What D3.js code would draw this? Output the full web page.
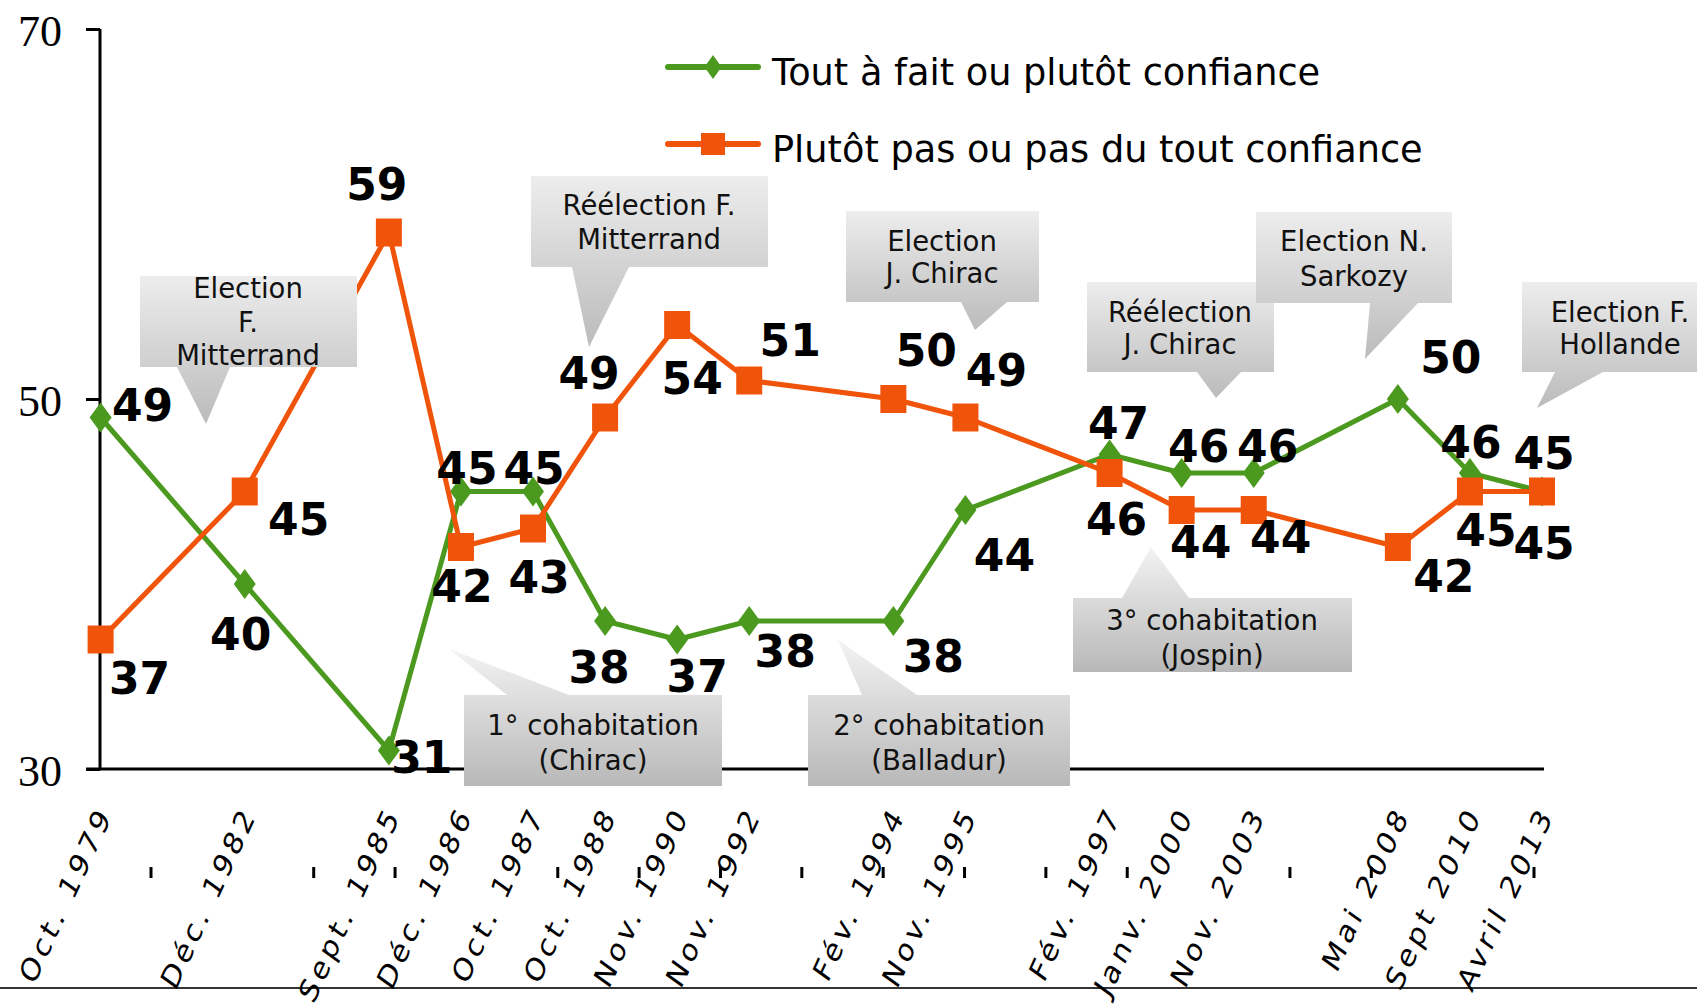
<!DOCTYPE html>
<html>
<head>
<meta charset="utf-8">
<script src="https://cdn.jsdelivr.net/npm/d3@7"></script>
<style>
  html, body { margin: 0; padding: 0; background: #fff; }
  svg { display: block; }
</style>
</head>
<body>
<div id="chart"></div>
<script>
// ---------------- DATA ----------------
// 21 category slots (empty strings are blank categories in the original sheet)
const categories = ["Oct. 1979", "", "Déc. 1982", "", "Sept. 1985", "Déc. 1986", "Oct. 1987",
  "Oct. 1988", "Nov. 1990", "Nov. 1992", "", "Fév. 1994", "Nov. 1995", "", "Fév. 1997",
  "Janv. 2000", "Nov. 2003", "", "Mai 2008", "Sept 2010", "Avril 2013"];
const seriesNames = ["Tout à fait ou plutôt confiance", "Plutôt pas ou pas du tout confiance"];
const confianceValues = [49, null, 40, null, 31, 45, 45, 38, 37, 38, null, 38, 44, null, 47, 46, 46, null, 50, 46, 45];
const defianceValues  = [37, null, 45, null, 59, 42, 43, 49, 54, 51, null, 50, 49, null, 46, 44, 44, null, 42, 45, 45];
const yTicks = [30, 50, 70];
const annotations = [
  ["Election", "F.", "Mitterrand"],
  ["Réélection F.", "Mitterrand"],
  ["Election", "J. Chirac"],
  ["Réélection", "J. Chirac"],
  ["Election N.", "Sarkozy"],
  ["Election F.", "Hollande"],
  ["1° cohabitation", "(Chirac)"],
  ["2° cohabitation", "(Balladur)"],
  ["3° cohabitation", "(Jospin)"]
];

// ---------------- LAYOUT ----------------
const W = 1697, H = 1004;
const GREEN = "#4b9a1f", ORANGE = "#f0530a";
const FONT = "'DejaVu Sans', Verdana, sans-serif";

// label offsets (dx, dy of baseline) relative to each point, in order of non-null points
const greenLabelOff = [[42,3],[-4,66],[33,22],[6,-8],[1,-8],[-6,62],[20,52],[36,46],[40,51],[39,61],[9,-16],[17,-11],[14,-11],[53,-26],[1,-15],[2,-23]];
const orangeLabelOff = [[39,54],[54,43],[-12,-33],[1,55],[6,64],[-16,-29],[15,69],[41,-25],[33,-33],[31,-32],[7,62],[19,48],[27,43],[46,45],[16,54],[2,67]];

// callout geometry: box [x0,y0,x1,y1], pointer side, pointer base xs, tip, text center x, baselines
const calloutGeom = [
  {box:[140,276,357,367], side:"bottom", base:[177,230], tip:[206,424], cx:248, bl:[298,332,365]},
  {box:[531,176,768,267], side:"bottom", base:[572,629], tip:[589,347], cx:649, bl:[215,249]},
  {box:[846,211,1039,302], side:"bottom", base:[961,1007], tip:[975,330], cx:942, bl:[251,283]},
  {box:[1087,282,1274,372], side:"bottom", base:[1197,1241], tip:[1216,398], cx:1180, bl:[322,354]},
  {box:[1256,212,1452,303], side:"bottom", base:[1370,1418], tip:[1365,359], cx:1354, bl:[251,286]},
  {box:[1522,282,1725,372], side:"bottom", base:[1555,1603], tip:[1537,408], cx:1620, bl:[322,354]},
  {box:[464,695,722,786], side:"top", base:[507,569], tip:[449,649], cx:593, bl:[735,770]},
  {box:[808,695,1070,786], side:"top", base:[862,917], tip:[838,640], cx:939, bl:[735,770]},
  {box:[1073,598,1352,672], side:"top", base:[1122,1189], tip:[1151,547], cx:1212, bl:[630,665]}
];

const svg = d3.select("#chart").append("svg")
  .attr("width", W).attr("height", H)
  .style("font-family", FONT);

svg.append("rect").attr("width", W).attr("height", H).attr("fill", "#fff");

const defs = svg.append("defs");
const gDown = defs.append("linearGradient").attr("id", "gDown").attr("x1", 0).attr("y1", 0).attr("x2", 0).attr("y2", 1);
gDown.append("stop").attr("offset", 0).attr("stop-color", "#ededed");
gDown.append("stop").attr("offset", 1).attr("stop-color", "#bbbbbb");
const gUp = defs.append("linearGradient").attr("id", "gUp").attr("x1", 0).attr("y1", 0).attr("x2", 0).attr("y2", 1);
gUp.append("stop").attr("offset", 0).attr("stop-color", "#f3f3f3");
gUp.append("stop").attr("offset", 1).attr("stop-color", "#b8b8b8");

// scales
const x = d3.scalePoint().domain(d3.range(categories.length)).range([100.6, 1542]);
const y = d3.scaleLinear().domain([30, 70]).range([769, 29]);

// ---- axes ----
const yAxis = d3.axisLeft(y).tickValues(yTicks).tickSize(14).tickFormat("");
const yg = svg.append("g").attr("transform", "translate(100,0)").call(yAxis);
yg.select(".domain").attr("stroke", "#000").attr("stroke-width", 3).attr("d", `M0,${y(70)}V${y(30)}`);
yg.selectAll(".tick line").attr("stroke", "#000").attr("stroke-width", 3);
svg.append("g").selectAll("text").data(yTicks).join("text")
  .attr("x", 62).attr("y", d => y(d) + 17)
  .attr("text-anchor", "end")
  .style("font-family", "'Liberation Serif', 'Times New Roman', serif")
  .style("font-size", "44px")
  .attr("fill", "#000")
  .text(d => d);

// x axis line
svg.append("line").attr("x1", 86).attr("x2", 1544).attr("y1", y(30)).attr("y2", y(30))
  .attr("stroke", "#000").attr("stroke-width", 3);

// bottom separator line
svg.append("line").attr("x1", 0).attr("x2", W).attr("y1", 988).attr("y2", 988)
  .attr("stroke", "#333").attr("stroke-width", 2);

// small dash marks of the category axis
const dashIdx = [0, 2, 3, 5, 6, 7, 8, 9, 10, 11, 12, 14, 15, 17];
const dashScale = d3.scaleLinear().domain([0, 17]).range([151, 1534]);
svg.append("g").selectAll("rect").data(dashIdx).join("rect")
  .attr("x", d => dashScale(d) - 1.5).attr("y", 867).attr("width", 3).attr("height", 11)
  .attr("fill", "#000");

// category labels (rotated, slightly stretched vertically like the original rendering)
svg.append("g").selectAll("text")
  .data(categories.map((c, i) => ({c, i})).filter(d => d.c))
  .join("text")
  .attr("transform", d => `translate(${x(d.i) + 12.5},814.7) scale(1,1.25) rotate(-60)`)
  .attr("text-anchor", "end")
  .style("font-size", "26px").style("letter-spacing", "3.4px")
  .attr("fill", "#000")
  .text(d => d.c);

// ---- series ----
function pts(vals) {
  return vals.map((v, i) => ({i, v})).filter(d => d.v !== null);
}
const line = d3.line().x(d => x(d.i)).y(d => y(d.v));

const greenPts = pts(confianceValues), orangePts = pts(defianceValues);
const diamond = (w, h) => `M0,${-h/2}L${w/2},0L0,${h/2}L${-w/2},0Z`;

svg.append("path").datum(greenPts).attr("d", line)
  .attr("fill", "none").attr("stroke", GREEN).attr("stroke-width", 5).attr("stroke-linejoin", "round");
svg.append("g").selectAll("path").data(greenPts).join("path")
  .attr("transform", d => `translate(${x(d.i)},${y(d.v)})`)
  .attr("d", diamond(22, 30)).attr("fill", GREEN);

svg.append("path").datum(orangePts).attr("d", line)
  .attr("fill", "none").attr("stroke", ORANGE).attr("stroke-width", 5).attr("stroke-linejoin", "round");
svg.append("g").selectAll("rect").data(orangePts).join("rect")
  .attr("x", d => x(d.i) - 13).attr("y", d => y(d.v) - 14)
  .attr("width", 26).attr("height", 28).attr("fill", ORANGE);

// data labels
function labels(points, offs) {
  svg.append("g").selectAll("text").data(points).join("text")
    .attr("x", (d, k) => x(d.i) + offs[k][0])
    .attr("y", (d, k) => y(d.v) + offs[k][1])
    .attr("text-anchor", "middle")
    .style("font-size", "44px").style("font-weight", "bold")
    .attr("fill", "#000")
    .text(d => d.v);
}
labels(greenPts, greenLabelOff);
labels(orangePts, orangeLabelOff);

// ---- legend ----
const legend = svg.append("g");
[[GREEN, 67, "d"], [ORANGE, 144, "s"]].forEach(([col, ly, m], k) => {
  legend.append("line").attr("x1", 668).attr("x2", 758).attr("y1", ly).attr("y2", ly)
    .attr("stroke", col).attr("stroke-width", 6).attr("stroke-linecap", "round");
  if (m === "d") {
    legend.append("path").attr("transform", `translate(713,${ly})`).attr("d", diamond(17, 24)).attr("fill", col);
  } else {
    legend.append("rect").attr("x", 701).attr("y", ly - 11).attr("width", 24).attr("height", 22).attr("fill", col);
  }
  legend.append("text").attr("x", 772).attr("y", ly + 18)
    .style("font-size", "36.7px").attr("fill", "#000").text(seriesNames[k]);
});

// ---- callouts ----
calloutGeom.forEach((g, k) => {
  const [x0, y0, x1, y1] = g.box;
  let p;
  if (g.side === "bottom") {
    p = `M${x0},${y0}H${x1}V${y1}H${g.base[1]}L${g.tip[0]},${g.tip[1]}L${g.base[0]},${y1}H${x0}Z`;
  } else {
    p = `M${x0},${y0}H${g.base[0]}L${g.tip[0]},${g.tip[1]}L${g.base[1]},${y0}H${x1}V${y1}H${x0}Z`;
  }
  const cg = svg.append("g");
  cg.append("path").attr("d", p).attr("fill", g.side === "bottom" ? "url(#gDown)" : "url(#gUp)");
  cg.selectAll("text").data(annotations[k]).join("text")
    .attr("x", g.cx).attr("y", (d, j) => g.bl[j])
    .attr("text-anchor", "middle")
    .style("font-size", "27.5px").attr("fill", "#111")
    .text(d => d);
});
</script>
</body>
</html>
